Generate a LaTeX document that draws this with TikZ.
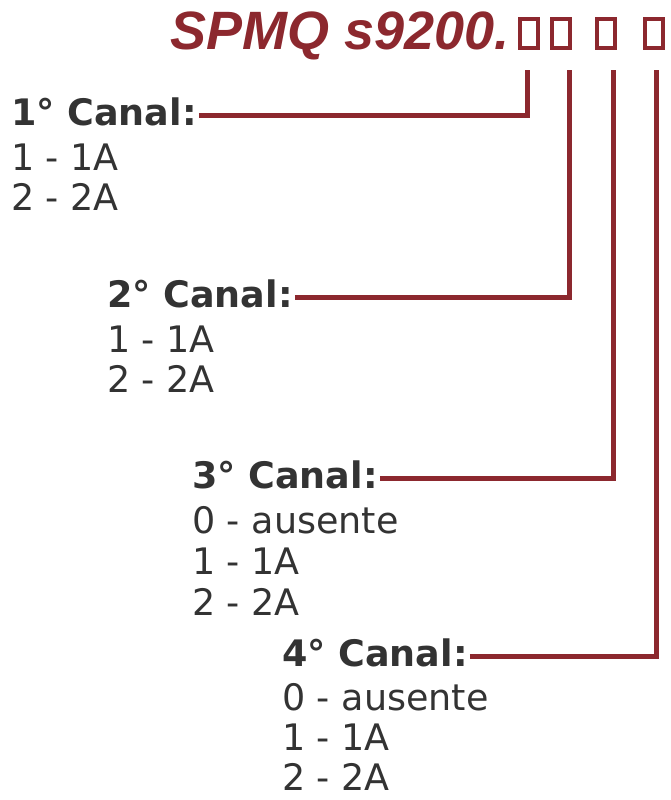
\documentclass[tikz,border=0pt]{standalone}
\usepackage{fontspec}
\setmainfont{DejaVu Sans}
\newfontfamily\titlefont{Liberation Sans}
\usepackage{tikz}
\usetikzlibrary{positioning}
\definecolor{vinho}{RGB}{140,40,46}
\definecolor{texto}{RGB}{51,51,51}
\tikzset{
  every picture/.style = {
    x = 1pt,
    y = -1pt,
  }
  , % model code on top
  codigo/.style = {
    anchor = base west,
    inner sep = 0pt,
    text = vinho,
    font = \titlefont\bfseries\itshape\fontsize{54}{54}\selectfont
  }
  , % empty boxes of the code
  casa/.style = {
    draw = vinho,
    line width = 4pt,
    minimum width = 18pt,
    minimum height = 29pt,
    inner sep = 0pt
  }
  , % channel titles
  canal/.style = {
    anchor = base west,
    inner sep = 2pt,
    text = texto,
    text height = 20pt,
    text depth = 0pt,
    font = \bfseries\fontsize{36.5}{41}\selectfont
  }
  , % options under each channel
  opcao/.style = {
    anchor = base west,
    inner sep = 2pt,
    text = texto,
    font = \fontsize{36.5}{41}\selectfont
  }
  ,
  ligacao/.style = {
    draw = vinho,
    line width = 5pt
  }
}

\begin{document}
\begin{tikzpicture}
    \useasboundingbox (0,0) rectangle (670,800);

    \node [codigo] (modelo) at (170,50) {SPMQ s9200.};
    \node [casa] (b1) at (529,33.5) {};
    \node [casa] (b2) at (561,33.5) {};
    \node [casa] (b3) at (606,33.5) {};
    \node [casa] (b4) at (653.5,33.5) {};
    \coordinate (t1) at (527,70);
    \coordinate (t2) at (569,70);
    \coordinate (t3) at (613,70);
    \coordinate (t4) at (656,70);

    \node [canal] (c1) at (9,125) {1° Canal:};
    \node [opcao, below = 45pt of c1.base west, anchor = base west] (c1b) {1 - 1A};
    \node [opcao, below = 40pt of c1b.base west, anchor = base west] (c1c) {2 - 2A};

    \node [canal] (c2) at (105,307) {2° Canal:};
    \node [opcao, below = 45pt of c2.base west, anchor = base west] (c2b) {1 - 1A};
    \node [opcao, below = 40pt of c2b.base west, anchor = base west] (c2c) {2 - 2A};

    \node [canal] (c3) at (190,488) {3° Canal:};
    \node [opcao, below = 45pt of c3.base west, anchor = base west] (c3a) {0 - ausente};
    \node [opcao, below = 41pt of c3a.base west, anchor = base west] (c3b) {1 - 1A};
    \node [opcao, below = 41pt of c3b.base west, anchor = base west] (c3c) {2 - 2A};

    \node [canal] (c4) at (280,666) {4° Canal:};
    \node [opcao, below = 44pt of c4.base west, anchor = base west] (c4a) {0 - ausente};
    \node [opcao, below = 40pt of c4a.base west, anchor = base west] (c4b) {1 - 1A};
    \node [opcao, below = 40pt of c4b.base west, anchor = base west] (c4c) {2 - 2A};

    \draw [ligacao] (c1.east) -| (t1);
    \draw [ligacao] (c2.east) -| (t2);
    \draw [ligacao] (c3.east) -| (t3);
    \draw [ligacao] (c4.east) -| (t4);
\end{tikzpicture}
\end{document}
